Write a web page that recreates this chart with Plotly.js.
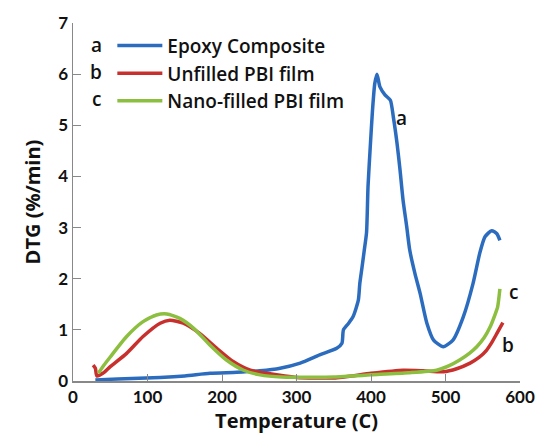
<!DOCTYPE html>
<html><head><meta charset="utf-8">
<script src="https://cdn.plot.ly/plotly-3.0.1.min.js"></script>
<style>html,body{margin:0;padding:0;background:#fff}#chart{width:537px;height:444px}</style>
</head><body><div id="chart"></div>
<script>
const seriesNames = ["Epoxy Composite", "Unfilled PBI film", "Nano-filled PBI film"];
const seriesLetters = ["a", "b", "c"];
const epoxyT = [30, 60, 117, 150, 184, 220, 251, 278, 305, 331, 354, 361, 363, 370, 376, 383, 385, 388, 391, 394, 396, 399, 402, 405, 408, 412, 419, 426, 430, 435, 439, 443, 448, 452, 459, 466, 475, 484, 497, 510, 524, 537, 546, 553, 562, 569, 573];
const epoxyY = [0.02, 0.04, 0.07, 0.10, 0.15, 0.17, 0.20, 0.25, 0.35, 0.51, 0.64, 0.74, 1.00, 1.13, 1.26, 1.58, 1.91, 2.23, 2.56, 2.90, 3.80, 4.58, 5.29, 5.81, 6.00, 5.75, 5.59, 5.49, 5.16, 4.64, 4.12, 3.54, 3.01, 2.56, 2.10, 1.71, 1.13, 0.80, 0.67, 0.80, 1.26, 1.91, 2.50, 2.82, 2.94, 2.88, 2.75];
const unfilledT = [27, 30, 32, 40, 50, 72, 94, 117, 130, 148, 170, 193, 215, 238, 260, 300, 350, 400, 443, 470, 497, 515, 533, 545, 555, 562, 569, 577];
const unfilledY = [0.31, 0.25, 0.10, 0.15, 0.28, 0.54, 0.87, 1.13, 1.19, 1.13, 0.93, 0.64, 0.38, 0.21, 0.15, 0.07, 0.06, 0.15, 0.21, 0.20, 0.18, 0.24, 0.35, 0.46, 0.60, 0.75, 0.93, 1.14];
const nanoT = [34, 40, 50, 72, 94, 112, 126, 144, 162, 184, 206, 229, 251, 280, 350, 400, 450, 488, 505, 519, 532, 542, 552, 560, 566, 570, 573];
const nanoY = [0.15, 0.28, 0.47, 0.87, 1.16, 1.29, 1.31, 1.22, 1.03, 0.70, 0.41, 0.21, 0.12, 0.08, 0.08, 0.12, 0.16, 0.21, 0.30, 0.41, 0.54, 0.67, 0.85, 1.06, 1.28, 1.45, 1.80];
const xTicks = [0, 100, 200, 300, 400, 500, 600];
const yTicks = [0, 1, 2, 3, 4, 5, 6, 7];
const curveLabelT = [441, 584, 591];
const curveLabelY = [5.14, 0.70, 1.74];
const colors = ["#2C6CBE", "#C8302E", "#8CBF3F"];

const fontFam = "Lato, 'Open Sans', sans-serif";
const wideFam = "'Open Sans', Lato, sans-serif";
const xs = [epoxyT, unfilledT, nanoT];
const ys = [epoxyY, unfilledY, nanoY];
const traces = xs.map((x, i) => ({
  x: x, y: ys[i], type: "scatter", mode: "lines", name: seriesNames[i],
  line: {color: colors[i], width: 3.5, shape: "spline", smoothing: 0.6}
}));

const annotations = [];
seriesLetters.forEach((l, i) => {
  annotations.push({x: curveLabelT[i], y: curveLabelY[i], xref: "x", yref: "y", text: l,
    showarrow: false, font: {family: wideFam, size: 19, color: "#111", weight: 600}});
  annotations.push({x: 0.052, y: 0.938 - i * 0.0755, xref: "paper", yref: "paper", text: l,
    xanchor: "center", yanchor: "middle",
    showarrow: false, font: {family: wideFam, size: 19, color: "#111", weight: 600}});
});

const layout = {
  width: 537, height: 444,
  margin: {l: 73, r: 17, t: 23, b: 63},
  paper_bgcolor: "#fff", plot_bgcolor: "#fff",
  showlegend: true,
  legend: {x: 0.088, y: 0.99, xanchor: "left", yanchor: "top", bgcolor: "rgba(0,0,0,0)",
    font: {family: wideFam, size: 19, color: "#111", weight: 600}, itemwidth: 45, tracegroupgap: 0},
  xaxis: {range: [0, 600], tickvals: xTicks, ticks: "inside", ticklen: 7, tickcolor: "#888",
    showline: true, linecolor: "#888", linewidth: 1.5, showgrid: false, zeroline: false,
    tickfont: {family: fontFam, size: 17, color: "#111", weight: "bold"},
    title: {text: "<b>Temperature (C)</b>", font: {family: wideFam, size: 20, color: "#111"}, standoff: 8}},
  yaxis: {range: [0, 7], tickvals: yTicks, ticks: "inside", ticklen: 8, tickcolor: "#888",
    showline: true, linecolor: "#888", linewidth: 1.5, showgrid: false, zeroline: false,
    tickfont: {family: fontFam, size: 17, color: "#111", weight: "bold"},
    title: {text: "<b>DTG (%/min)</b>", font: {family: wideFam, size: 20, color: "#111"}, standoff: 12}},
  annotations: annotations
};
Plotly.newPlot("chart", traces, layout, {staticPlot: true, displayModeBar: false});
</script></body></html>
